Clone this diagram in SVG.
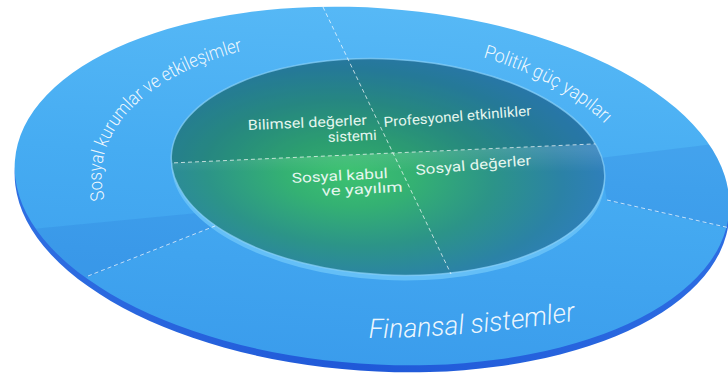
<svg xmlns="http://www.w3.org/2000/svg" width="728" height="381" viewBox="0 0 728 381">
  <style>
    .ring-label { fill: #ffffff; fill-opacity: 0.92; font-family: Roboto, "Open Sans", "Noto Sans", sans-serif; font-size: 19px; font-weight: 300; }
    .core-label { fill: #e4f6ee; font-family: Roboto, "Open Sans", "Noto Sans", sans-serif; font-size: 14px; }
    .divider { fill: none; stroke: #ffffff; stroke-opacity: 0.7; stroke-width: 1; stroke-dasharray: 4 3; }
  </style>
  <defs>
    <linearGradient id="ringFill" gradientUnits="userSpaceOnUse" x1="0" y1="0" x2="0" y2="370">
      <stop offset="0" stop-color="#57b9f6"/>
      <stop offset="0.45" stop-color="#46acf2"/>
      <stop offset="1" stop-color="#3a9cec"/>
    </linearGradient>
    <linearGradient id="rimFill" x1="0" y1="0" x2="1" y2="0">
      <stop offset="0" stop-color="#2f6fe2"/>
      <stop offset="0.5" stop-color="#1f58d8"/>
      <stop offset="1" stop-color="#2c6ce2"/>
    </linearGradient>
    <radialGradient id="coreFill" gradientUnits="userSpaceOnUse" cx="350" cy="176" r="260"
                    gradientTransform="translate(350 176) scale(1 0.5) translate(-350 -176)">
      <stop offset="0" stop-color="#3cc270"/>
      <stop offset="0.25" stop-color="#34b173"/>
      <stop offset="0.55" stop-color="#2c9488"/>
      <stop offset="0.82" stop-color="#2b82a6"/>
      <stop offset="1" stop-color="#2f7fbc"/>
    </radialGradient>
    <linearGradient id="ledge" gradientUnits="userSpaceOnUse" x1="0" y1="150" x2="0" y2="172">
      <stop offset="0" stop-color="#ffffff" stop-opacity="0.12"/>
      <stop offset="1" stop-color="#ffffff" stop-opacity="0"/>
    </linearGradient>
    <clipPath id="outerClip">
      <ellipse cx="372" cy="186" rx="358" ry="178" transform="rotate(4 372 186)"/>
    </clipPath>
    <clipPath id="innerClip">
      <ellipse cx="388" cy="167" rx="217" ry="108" transform="rotate(3 388 167)"/>
    </clipPath>
    <!-- baseline arcs for the curved ring labels, in the ring's local frame -->
    <path id="arcLeft" d="M-265.8,29.1 A271,150 0 0 1 -23.6,-149.4"/>
    <path id="arcRight" d="M101.5,-139.1 A271,150 0 0 1 261.8,-38.8"/>
    <path id="arcBottom" d="M369,338 Q462,338 578,320"/>
  </defs>

  <!-- disc body -->
  <g id="disc">
    <ellipse cx="372" cy="193" rx="358" ry="178" transform="rotate(4 372 193)" fill="url(#rimFill)"/>
    <ellipse cx="372" cy="186" rx="358" ry="178" transform="rotate(4 372 186)" fill="url(#ringFill)"/>
    <g clip-path="url(#outerClip)">
      <!-- shaded bands on the ring -->
      <polygon points="0,232 208,212 216,226 88,277 0,300" fill="#1c66cc" fill-opacity="0.16"/>
      <polygon points="600,158 730,142 730,229 607,201" fill="#1c66cc" fill-opacity="0.16"/>
    </g>
  </g>

  <!-- outer ring segments -->
  <g id="segment-social-institutions">
    <g transform="translate(372 189) rotate(4)">
      <text class="ring-label"><textPath href="#arcLeft" textLength="226" lengthAdjust="spacingAndGlyphs">Sosyal kurumlar ve etkileşimler</textPath></text>
    </g>
  </g>
  <g id="segment-political-power">
    <g transform="translate(372 189) rotate(4)">
      <text class="ring-label"><textPath href="#arcRight" textLength="140" lengthAdjust="spacingAndGlyphs">Politik güç yapıları</textPath></text>
    </g>
  </g>
  <g id="segment-financial-systems">
    <text class="ring-label" style="font-size:27px;font-style:italic"><textPath href="#arcBottom" textLength="208" lengthAdjust="spacingAndGlyphs">Finansal sistemler</textPath></text>
  </g>

  <!-- inner core -->
  <g id="core">
    <ellipse cx="388" cy="172" rx="217" ry="108" transform="rotate(3 388 172)" fill="#64bff7"/>
    <ellipse cx="388" cy="167" rx="217" ry="108" transform="rotate(3 388 167)" fill="url(#coreFill)"/>
    <g clip-path="url(#innerClip)">
      <polygon points="150,164 620,143 620,40 150,40" fill="#0d5466" fill-opacity="0.2"/>
      <polygon points="150,164 620,143 620,170 150,190" fill="url(#ledge)"/>
    </g>
    <ellipse cx="388" cy="167" rx="217" ry="108" transform="rotate(3 388 167)" fill="none" stroke="#8ad2fa" stroke-opacity="0.7" stroke-width="1.5"/>
  </g>

  <!-- dividing lines -->
  <g id="dividers">
    <line class="divider" x1="323" y1="7" x2="451" y2="274"/>
    <line class="divider" x1="88" y1="276" x2="215" y2="226"/>
    <line class="divider" x1="607" y1="200" x2="730" y2="228"/>
    <g clip-path="url(#innerClip)">
      <line class="divider" x1="160" y1="163.5" x2="615" y2="143"/>
    </g>
  </g>

  <!-- core quadrants -->
  <g id="quadrant-scientific-values">
    <text class="core-label" x="248" y="130" textLength="119" lengthAdjust="spacingAndGlyphs" transform="rotate(-2.5 248 130)">Bilimsel değerler</text>
    <text class="core-label" x="328" y="142" textLength="49" lengthAdjust="spacingAndGlyphs" transform="rotate(-2.5 328 142)">sistemi</text>
  </g>
  <g id="quadrant-professional-activities">
    <text class="core-label" x="384" y="127" textLength="148" lengthAdjust="spacingAndGlyphs" transform="rotate(-4.5 384 127)">Profesyonel etkinlikler</text>
  </g>
  <g id="quadrant-social-acceptance">
    <text class="core-label" x="292" y="183" textLength="96" lengthAdjust="spacingAndGlyphs" transform="rotate(-3 292 183)">Sosyal kabul</text>
    <text class="core-label" x="322" y="196" textLength="81" lengthAdjust="spacingAndGlyphs" transform="rotate(-3 322 196)">ve yayılım</text>
  </g>
  <g id="quadrant-social-values">
    <text class="core-label" x="416" y="175" textLength="116" lengthAdjust="spacingAndGlyphs" transform="rotate(-5 416 175)">Sosyal değerler</text>
  </g>
</svg>
